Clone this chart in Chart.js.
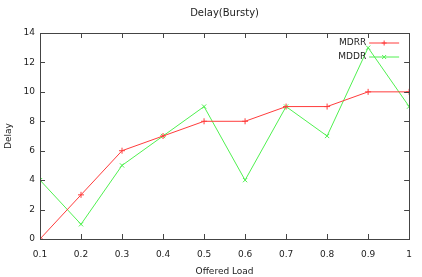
<!DOCTYPE html>
<html>
<head>
<meta charset="utf-8">
<script src="https://cdn.jsdelivr.net/npm/chart.js@4/dist/chart.umd.min.js"></script>
<style>
  html, body { margin: 0; padding: 0; background: #fff; }
  canvas { display: block; }
</style>
</head>
<body>
<canvas id="delayChart" width="422" height="277"></canvas>
<script>
// Données
const offeredLoad = [0.1, 0.2, 0.3, 0.4, 0.5, 0.6, 0.7, 0.8, 0.9, 1];
const mdrrDelay = [0, 3, 6, 7, 8, 8, 9, 9, 10, 10];
const mddrDelay = [4, 1, 5, 7, 9, 4, 9, 7, 13, 9];
const xTicks = [0.1, 0.2, 0.3, 0.4, 0.5, 0.6, 0.7, 0.8, 0.9, 1];
const yTicks = [0, 2, 4, 6, 8, 10, 12, 14];

const fontFamily = "'DejaVu Sans', sans-serif";
const redLine = "rgb(255, 60, 60)";
const greenLine = "rgb(80, 240, 80)";

// Petits traits vers l'intérieur sur les 4 côtés + légende façon gnuplot
const gnuplotFrame = {
  id: "gnuplotFrame",
  afterDatasetsDraw(chart) {
    const { ctx, chartArea: a, scales } = chart;
    ctx.save();
    ctx.strokeStyle = "#444";
    ctx.lineWidth = 1;
    ctx.beginPath();
    xTicks.forEach((v) => {
      const x = Math.round(scales.x.getPixelForValue(v)) + 0.5;
      ctx.moveTo(x, a.bottom); ctx.lineTo(x, a.bottom - 5);
      ctx.moveTo(x, a.top); ctx.lineTo(x, a.top + 5);
    });
    yTicks.forEach((v) => {
      const y = Math.round(scales.y.getPixelForValue(v)) + 0.5;
      ctx.moveTo(a.left, y); ctx.lineTo(a.left + 5, y);
      ctx.moveTo(a.right, y); ctx.lineTo(a.right - 5, y);
    });
    ctx.stroke();
    ctx.strokeRect(Math.round(a.left) + 0.5, Math.round(a.top) + 0.5,
      Math.round(a.right - a.left), Math.round(a.bottom - a.top));

    // Légende
    ctx.font = "9px " + fontFamily;
    ctx.textAlign = "right";
    ctx.textBaseline = "middle";
    chart.data.datasets.forEach((ds, i) => {
      const y = a.top + 10 + i * 14;
      ctx.fillStyle = "#222";
      ctx.fillText(ds.label, a.right - 43, y);
      ctx.strokeStyle = ds.borderColor;
      ctx.beginPath();
      ctx.moveTo(a.right - 40, y);
      ctx.lineTo(a.right - 10, y);
      ctx.stroke();
      const mx = a.right - 25;
      ctx.beginPath();
      if (i === 0) {
        ctx.moveTo(mx - 2.5, y); ctx.lineTo(mx + 2.5, y);
        ctx.moveTo(mx, y - 2.5); ctx.lineTo(mx, y + 2.5);
      } else {
        ctx.moveTo(mx - 2, y - 2); ctx.lineTo(mx + 2, y + 2);
        ctx.moveTo(mx - 2, y + 2); ctx.lineTo(mx + 2, y - 2);
      }
      ctx.stroke();
    });
    ctx.restore();
  },
};

new Chart(document.getElementById("delayChart"), {
  type: "line",
  data: {
    labels: offeredLoad,
    datasets: [
      {
        label: "MDRR",
        data: offeredLoad.map((x, i) => ({ x, y: mdrrDelay[i] })),
        borderColor: redLine,
        backgroundColor: redLine,
        borderWidth: 1,
        pointStyle: "cross",
        pointRadius: 3,
        pointBorderWidth: 1,
        tension: 0,
      },
      {
        label: "MDDR",
        data: offeredLoad.map((x, i) => ({ x, y: mddrDelay[i] })),
        borderColor: greenLine,
        backgroundColor: greenLine,
        borderWidth: 1,
        pointStyle: "crossRot",
        pointRadius: 3,
        pointBorderWidth: 1,
        tension: 0,
      },
    ],
  },
  options: {
    responsive: false,
    animation: false,
    layout: { padding: { left: 0, right: 9, top: 0, bottom: 0 } },
    plugins: {
      legend: { display: false },
      tooltip: { enabled: false },
      title: {
        display: true,
        fullSize: false,
        text: "Delay(Bursty)",
        color: "#222",
        font: { family: fontFamily, size: 10, weight: "normal" },
        padding: { top: 7, bottom: 14 },
      },
    },
    scales: {
      x: {
        type: "linear",
        min: 0.1,
        max: 1,
        afterBuildTicks: (scale) => { scale.ticks = xTicks.map((value) => ({ value })); },
        afterFit: (scale) => { scale.height = 38; },
        grid: { display: false, drawTicks: false, tickLength: 0 },
        border: { display: false },
        ticks: {
          color: "#222",
          font: { family: fontFamily, size: 9 },
          padding: 10,
          maxRotation: 0,
          callback: (v) => String(Math.round(v * 10) / 10),
        },
        title: {
          display: true,
          text: "Offered Load",
          color: "#222",
          font: { family: fontFamily, size: 9 },
          padding: { top: 6, bottom: 0 },
        },
      },
      y: {
        min: 0,
        max: 14,
        afterBuildTicks: (scale) => { scale.ticks = yTicks.map((value) => ({ value })); },
        afterFit: (scale) => { scale.width = 40; },
        grid: { display: false, drawTicks: false, tickLength: 0 },
        border: { display: false },
        ticks: {
          color: "#222",
          font: { family: fontFamily, size: 9 },
          padding: 5,
        },
        title: {
          display: true,
          text: "Delay",
          color: "#222",
          font: { family: fontFamily, size: 9 },
          padding: { top: 3, bottom: 4 },
        },
      },
    },
  },
  plugins: [gnuplotFrame],
});
</script>
</body>
</html>
